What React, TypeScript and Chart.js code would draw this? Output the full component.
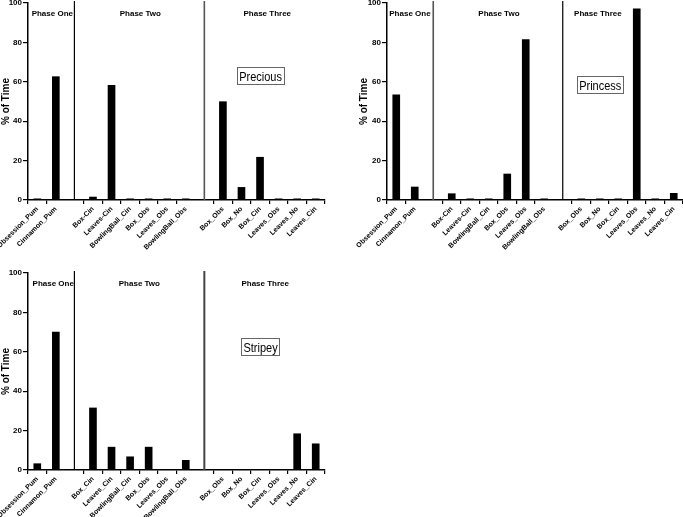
import React, { useEffect, useRef } from 'react';
import { Chart, registerables } from 'chart.js';
Chart.register(...registerables);

const labelsA = ['Obsession_Pum', 'Cinnamon_Pum', '', 'Box-Cin', 'Leaves-Cin', 'BowlingBall_Cin', 'Box_Obs', 'Leaves_Obs', 'BowlingBall_Obs', '', 'Box_Obs', 'Box_No', 'Box_Cin', 'Leaves_Obs', 'Leaves_No', 'Leaves_Cin'];
const labelsB = ['Obsession_Pum', 'Cinnamon_Pum', '', 'Box_Cin', 'Leaves_Cin', 'BowlingBall_Cin', 'Box_Obs', 'Leaves_Obs', 'BowlingBall_Obs', '', 'Box_Obs', 'Box_No', 'Box_Cin', 'Leaves_Obs', 'Leaves_No', 'Leaves_Cin'];

const precious = [0.6, 62.6, null, 1.5, 58.2, 0.6, 0.6, 0.6, 0.6, null, 49.9, 6.4, 21.7, 0.6, 0.6, 0.6];
const princess = [53.4, 6.6, null, 3.2, 0.6, 0.6, 13.2, 81.4, 0.6, null, 0.6, 0.6, 0.6, 97, 0.6, 3.4];
const stripey = [3.2, 70, null, 31.5, 11.6, 6.7, 11.6, 0, 4.9, null, 0, 0, 0, 0, 18.4, 13.3];

const phaseNames = ['Phase One', 'Phase Two', 'Phase Three'];
const gapIndexes = [2, 9];
const yTicks = [0, 20, 40, 60, 80, 100];

const FONT = '"Liberation Sans", Arial, sans-serif';

type PanelCfg = {
  name: string;
  labels: string[];
  data: (number | null)[];
  left: number; top: number; w: number; h: number;
  yWidth: number; xHeight: number; padTop: number; padRight: number; titlePad: number;
  phasePos: number[];
  box: [number, number];
  lines: { color: string; width: number }[];
};

const panels: PanelCfg[] = [
  {
    name: 'Precious', labels: labelsA, data: precious,
    left: 0, top: 0, w: 340, h: 262, yWidth: 28, xHeight: 62, padTop: 3, padRight: 15, titlePad: 0,
    phasePos: [0.81, 5.55, 12.39], box: [12.0, 63],
    lines: [{ color: '#000', width: 1.2 }, { color: '#555', width: 1.6 }],
  },
  {
    name: 'Princess', labels: labelsA, data: princess,
    left: 340, top: 0, w: 343, h: 262, yWidth: 47, xHeight: 62, padTop: 3, padRight: 0, titlePad: 18,
    phasePos: [0.74, 5.55, 10.9], box: [11.0, 58.5],
    lines: [{ color: '#555', width: 1.6 }, { color: '#000', width: 1.2 }],
  },
  {
    name: 'Stripey', labels: labelsB, data: stripey,
    left: 0, top: 262, w: 340, h: 255, yWidth: 28, xHeight: 47, padTop: 11, padRight: 15, titlePad: 0,
    phasePos: [0.86, 5.5, 12.28], box: [12.0, 62.6],
    lines: [{ color: '#000', width: 1.2 }, { color: '#444', width: 2 }],
  },
];

function Panel({ cfg }: { cfg: PanelCfg }) {
  const ref = useRef<HTMLCanvasElement>(null);
  useEffect(() => {
    const plugin = {
      id: 'phases',
      afterDraw(chart: any) {
        const { ctx, chartArea, scales } = chart;
        const xs = scales.x, ys = scales.y;
        ctx.save();
        gapIndexes.forEach((gi, i) => {
          const px = xs.getPixelForValue(gi);
          ctx.beginPath();
          ctx.strokeStyle = cfg.lines[i].color;
          ctx.lineWidth = cfg.lines[i].width;
          ctx.moveTo(px, chartArea.top - 2);
          ctx.lineTo(px, chartArea.bottom);
          ctx.stroke();
        });
        ctx.font = `bold 8px ${FONT}`;
        ctx.fillStyle = '#000';
        ctx.textAlign = 'center';
        ctx.textBaseline = 'middle';
        phaseNames.forEach((n, i) => {
          ctx.fillText(n, xs.getPixelForValue(cfg.phasePos[i]), chartArea.top + 11);
        });
        const bx = xs.getPixelForValue(cfg.box[0]);
        const by = ys.getPixelForValue(cfg.box[1]);
        ctx.font = `12.5px ${FONT}`;
        const tw = ctx.measureText(cfg.name).width * 0.88;
        const bw = Math.round(tw + 4), bh = 17;
        const x0 = Math.round(bx - bw / 2), y0 = Math.round(by - bh / 2);
        ctx.fillStyle = '#fff';
        ctx.fillRect(x0, y0, bw, bh);
        ctx.strokeStyle = '#666';
        ctx.lineWidth = 1;
        ctx.strokeRect(x0 + 0.5, y0 + 0.5, bw, bh);
        ctx.fillStyle = '#000';
        ctx.fillText(cfg.name, bx + 0.5, by + 1.5, tw);
        ctx.restore();
      },
    };
    const chart = new Chart(ref.current!, {
      type: 'bar',
      data: {
        labels: cfg.labels,
        datasets: [{ data: cfg.data as any, backgroundColor: '#000', barThickness: 7 }],
      },
      options: {
        responsive: false,
        animation: false,
        layout: { padding: { top: cfg.padTop, right: cfg.padRight, left: 0, bottom: 0 } },
        plugins: { legend: { display: false }, tooltip: { enabled: false } },
        scales: {
          x: {
            grid: {
              drawOnChartArea: false, tickLength: 4, lineWidth: 1.2,
              color: (c: any) => (gapIndexes.includes(c.index) ? 'rgba(0,0,0,0)' : '#000'),
            },
            border: { display: true, color: '#000', width: 1.5 },
            ticks: {
              autoSkip: false, minRotation: 45, maxRotation: 45, padding: 1,
              color: '#000', font: { family: FONT, size: 7, weight: 'bold' },
            },
            afterFit(s: any) { s.height = cfg.xHeight; s.paddingLeft = 0; s.paddingRight = 0; },
          },
          y: {
            min: 0, max: 100,
            afterBuildTicks(s: any) { s.ticks = yTicks.map((v) => ({ value: v })); },
            grid: { drawOnChartArea: false, tickLength: 5, color: '#000', lineWidth: 1.2 },
            border: { display: true, color: '#000', width: 1.5 },
            ticks: { padding: 1, color: '#000', font: { family: FONT, size: 8, weight: 'bold' } },
            title: {
              display: true, text: '% of Time', color: '#000',
              font: { family: FONT, size: 10, weight: 'bold' },
              padding: { top: cfg.titlePad, bottom: 0 },
            },
            afterFit(s: any) { s.width = cfg.yWidth; s.paddingTop = 0; s.paddingBottom = 0; },
          },
        },
      },
      plugins: [plugin],
    });
    return () => chart.destroy();
  }, [cfg]);
  return (
    <canvas
      ref={ref}
      width={cfg.w}
      height={cfg.h}
      style={{ position: 'absolute', left: cfg.left, top: cfg.top, width: cfg.w, height: cfg.h }}
    />
  );
}

export default function App() {
  return (
    <div style={{ position: 'fixed', left: 0, top: 0, width: 683, height: 517, background: '#fff', overflow: 'hidden' }}>
      {panels.map((p) => (
        <Panel key={p.name} cfg={p} />
      ))}
    </div>
  );
}
